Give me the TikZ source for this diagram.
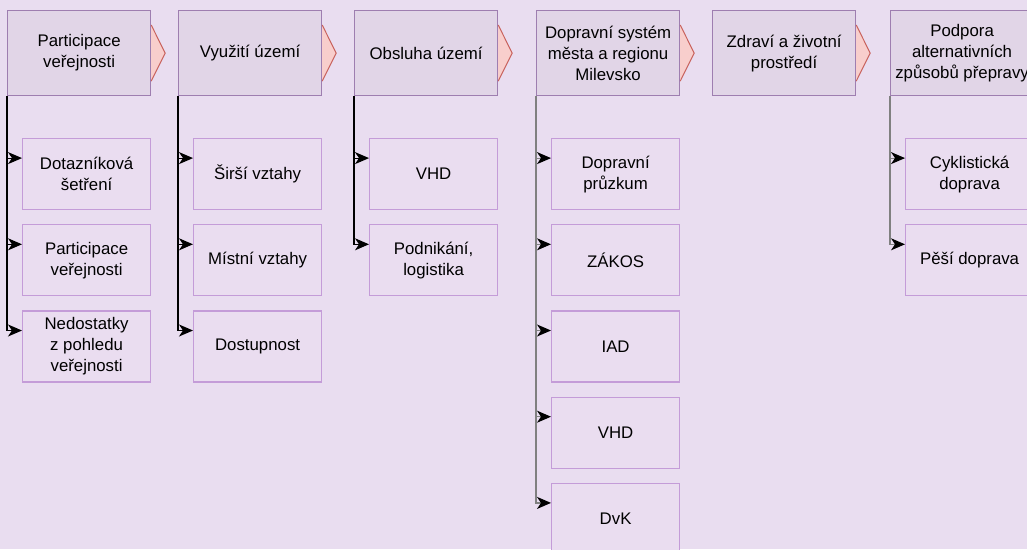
\documentclass[tikz,border=0pt]{standalone}
\usepackage{fontspec}
\setmainfont{Liberation Sans}
\usetikzlibrary{positioning,arrows.meta}
\definecolor{bgcol}{HTML}{E9DDF0}
\definecolor{headfill}{HTML}{E1D5E7}
\definecolor{headline}{HTML}{9E7EB0}
\definecolor{subfill}{HTML}{EADDF0}
\definecolor{subline}{HTML}{C49CD8}
\definecolor{trifill}{HTML}{F8CECC}
\definecolor{triline}{HTML}{C8615C}
\begin{document}
\begin{tikzpicture}[x=1pt,y=-1pt]
        \tikzstyle{head}=[draw=headline, fill=headfill, line width=1.2pt,
            anchor=north west, minimum width=143pt, minimum height=85pt,
            inner sep=0pt, align=center, font=\fontsize{16.8}{21}\selectfont]
        \tikzstyle{sub}=[draw=subline, fill=subfill, line width=1.2pt,
            minimum width=128pt, minimum height=71pt,
            inner sep=0pt, align=center, font=\fontsize{16.8}{21}\selectfont]
        \tikzstyle{tri}=[draw=triline, fill=trifill, line width=1pt]
        \tikzstyle{link}=[draw=black, line width=1.2pt,
            -{Stealth[length=14pt,width=12pt,inset=4pt,color=black]}]
        \tikzstyle{glink}=[link, draw=gray]

        \fill[bgcol] (0,0) rectangle (1027,549);
        \useasboundingbox (0,0) rectangle (1027,549);

        % headers
        \node[head] (h1) at (7,10) {Participace\\veřejnosti};
        \node[head] (h2) at (178,10) {Využití území};
        \node[head] (h3) at (354,10) {Obsluha území};
        \node[head] (h4) at (536,10) {Dopravní systém\\města a regionu\\Milevsko};
        \node[head] (h5) at (712,10) {Zdraví a životní\\prostředí};
        \node[head] (h6) at (890,10) {Podpora\\alternativních\\způsobů přepravy};

        % arrows between headers
        \foreach \h in {h1,h2,h3,h4,h5}
            \draw[tri] ([yshift=-15pt]\h.north east) -- ([xshift=14pt]\h.east)
                -- ([yshift=15pt]\h.south east);

        % first column
        \node[sub, anchor=north west] (c11) at (22,138) {Dotazníková\\šetření};
        \node[sub, below=14pt of c11] (c12) {Participace\\veřejnosti};
        \node[sub, below=14pt of c12] (c13) {Nedostatky\\z pohledu\\veřejnosti};

        % second column
        \node[sub, anchor=north west] (c21) at (193,138) {Širší vztahy};
        \node[sub, below=14pt of c21] (c22) {Místní vztahy};
        \node[sub, below=14pt of c22] (c23) {Dostupnost};

        % third column
        \node[sub, anchor=north west] (c31) at (369,138) {VHD};
        \node[sub, below=14pt of c31] (c32) {Podnikání,\\logistika};

        % fourth column
        \node[sub, anchor=north west] (c41) at (551,138) {Dopravní\\průzkum};
        \node[sub, below=14pt of c41] (c42) {ZÁKOS};
        \node[sub, below=14pt of c42] (c43) {IAD};
        \node[sub, below=14pt of c43] (c44) {VHD};
        \node[sub, below=14pt of c44] (c45) {DvK};

        % sixth column
        \node[sub, anchor=north west] (c61) at (905,138) {Cyklistická\\doprava};
        \node[sub, below=14pt of c61] (c62) {Pěší doprava};

        \foreach \c in {c11,c12,c13}
            \draw[link] (h1.south west) |- ([yshift=16pt]\c.west);
        \foreach \c in {c21,c22,c23}
            \draw[link] (h2.south west) |- ([yshift=16pt]\c.west);
        \foreach \c in {c31,c32}
            \draw[link] (h3.south west) |- ([yshift=16pt]\c.west);
        \foreach \c in {c41,c42,c43,c44,c45}
            \draw[glink] (h4.south west) |- ([yshift=16pt]\c.west);
        \foreach \c in {c61,c62}
            \draw[glink] (h6.south west) |- ([yshift=16pt]\c.west);

    \end{tikzpicture}
\end{document}
